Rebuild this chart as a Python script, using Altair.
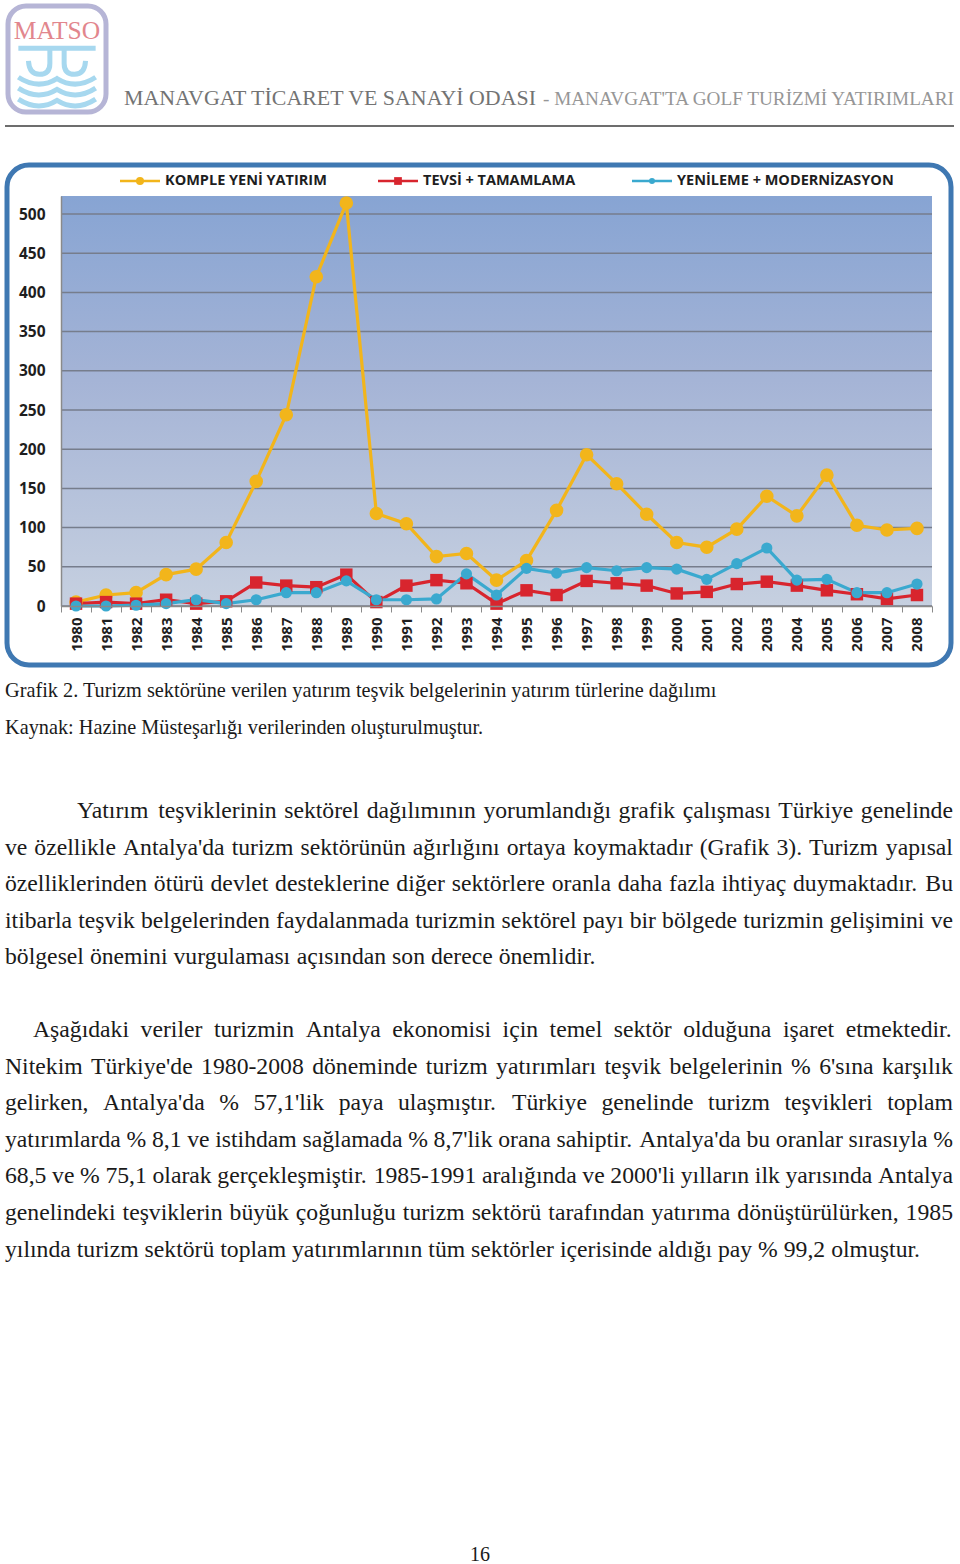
import altair as alt
import pandas as pd

# ---------------- data ----------------
years = [str(y) for y in range(1980, 2009)]
komple = [5, 14, 17, 40, 47, 81, 159, 244, 420, 514, 118, 105, 63, 67, 33, 58, 122, 193, 156, 117,
          81, 75, 98, 140, 115, 167, 103, 97, 99]
tevsi = [3, 5, 3, 8, 3, 6, 30, 26, 24, 40, 5, 26, 33, 29, 3, 20, 14, 32, 29, 26,
         16, 18, 28, 31, 26, 20, 15, 9, 14]
yenileme = [0, 0, 1, 3, 8, 3, 8, 17, 17, 32, 8, 8, 9, 41, 14, 48, 42, 49, 45, 49,
            47, 34, 54, 74, 33, 34, 17, 17, 28]
series_names = ["KOMPLE YENİ YATIRIM", "TEVSİ + TAMAMLAMA", "YENİLEME + MODERNİZASYON"]
series_colors = ["#f2b51b", "#d8252e", "#3aa9cf"]
series_shapes = ["circle", "square", "circle"]
series_sizes = [185, 125, 140]
y_ticks = list(range(0, 501, 50))

header_main = "MANAVGAT TİCARET VE SANAYİ ODASI"
header_sub = "- MANAVGAT'TA GOLF TURİZMİ YATIRIMLARI"
caption_lines = [
    "Grafik 2. Turizm sektörüne verilen yatırım teşvik belgelerinin yatırım türlerine dağılımı",
    "Kaynak: Hazine Müsteşarlığı verilerinden oluşturulmuştur.",
]
para1 = [
    "Yatırım teşviklerinin sektörel dağılımının yorumlandığı grafik çalışması Türkiye genelinde",
    "ve özellikle Antalya'da turizm sektörünün ağırlığını ortaya koymaktadır (Grafik 3). Turizm yapısal",
    "özelliklerinden ötürü devlet desteklerine diğer sektörlere oranla daha fazla ihtiyaç duymaktadır. Bu",
    "itibarla teşvik belgelerinden faydalanmada turizmin sektörel payı bir bölgede turizmin gelişimini ve",
    "bölgesel önemini vurgulaması açısından son derece önemlidir.",
]
para2 = [
    "Aşağıdaki veriler turizmin Antalya ekonomisi için temel sektör olduğuna işaret etmektedir.",
    "Nitekim Türkiye'de 1980-2008 döneminde turizm yatırımları teşvik belgelerinin % 6'sına karşılık",
    "gelirken, Antalya'da % 57,1'lik paya ulaşmıştır. Türkiye genelinde turizm teşvikleri toplam",
    "yatırımlarda % 8,1 ve istihdam sağlamada % 8,7'lik orana sahiptir. Antalya'da bu oranlar sırasıyla %",
    "68,5 ve % 75,1 olarak gerçekleşmiştir. 1985-1991 aralığında ve 2000'li yılların ilk yarısında Antalya",
    "genelindeki teşviklerin büyük çoğunluğu turizm sektörü tarafından yatırıma dönüştürülürken, 1985",
    "yılında turizm sektörü toplam yatırımlarının tüm sektörler içerisinde aldığı pay % 99,2 olmuştur.",
]
page_number = "16"

# ---------------- layout helpers ----------------
OX, OY = 61, 196          # plot origin on the page
PW, PH = 871, 410         # plot size
Y_MAX = 523

W = {' ': 250, 'a': 444, 'b': 500, 'c': 444, 'd': 500, 'e': 444, 'f': 333, 'g': 500, 'h': 500,
     'i': 278, 'j': 278, 'k': 500, 'l': 278, 'm': 778, 'n': 500, 'o': 500, 'p': 500, 'q': 500,
     'r': 333, 's': 389, 't': 278, 'u': 500, 'v': 500, 'w': 722, 'x': 500, 'y': 500, 'z': 444,
     'A': 722, 'B': 667, 'C': 667, 'D': 722, 'E': 611, 'F': 556, 'G': 722, 'H': 722, 'I': 333,
     'J': 389, 'K': 722, 'L': 611, 'M': 889, 'N': 722, 'O': 722, 'P': 556, 'Q': 722, 'R': 667,
     'S': 556, 'T': 611, 'U': 722, 'V': 722, 'W': 944, 'X': 722, 'Y': 722, 'Z': 611,
     '.': 250, ',': 250, "'": 180, '(': 333, ')': 333, '%': 833, '-': 333, ':': 278,
     'ı': 278, 'ş': 389, 'ç': 444, 'ğ': 500, 'ö': 500, 'ü': 500, 'İ': 333, 'Ş': 556,
     'Ç': 667, 'Ö': 722, 'Ü': 722, 'Ğ': 722}


def tw(s, fs):
    return sum(W.get(ch, 500) for ch in s) * fs / 1000.0


BODY_FS = 23.7
rows = []


def lay(text, x0, x1, base, justify):
    words = text.split(' ')
    ws = [tw(w, BODY_FS) for w in words]
    if justify and len(words) > 1:
        gap = (x1 - x0 - sum(ws)) / (len(words) - 1)
    else:
        gap = 0.25 * BODY_FS
    x = x0
    for w, wd in zip(words, ws):
        rows.append({"word": w, "px": x - OX, "py": base - OY})
        x += wd + gap


step = 36.6
for i, line in enumerate(para1):
    lay(line, 77 if i == 0 else 5, 953, 818 + i * step, i < len(para1) - 1)
for i, line in enumerate(para2):
    lay(line, 33 if i == 0 else 5, 953, 1037 + i * step, i < len(para2) - 1)
words_df = pd.DataFrame(rows)

one = pd.DataFrame({"k": [0]})

# ---------------- chart frame ----------------
box = alt.Chart(one).mark_rect(cornerRadius=22, fill="white", stroke="#3f78b2", strokeWidth=5).encode(
    x=alt.value(7 - OX), x2=alt.value(951 - OX), y=alt.value(165 - OY), y2=alt.value(665 - OY))

bg = alt.Chart(one).mark_rect(
    color=alt.LinearGradient(
        gradient="linear", x1=0, x2=0, y1=0, y2=1,
        stops=[alt.GradientStop(offset=0, color="#87a4d3"),
               alt.GradientStop(offset=0.45, color="#a5b4d6"),
               alt.GradientStop(offset=1, color="#c6d0e0")])
).encode(x=alt.value(0), x2=alt.value(PW), y=alt.value(0), y2=alt.value(PH))

grid = alt.Chart(pd.DataFrame({"v": y_ticks})).mark_rule(color="#767d8c", strokeWidth=1.5).encode(
    y=alt.Y("v:Q", scale=alt.Scale(domain=[0, Y_MAX], nice=False)), x=alt.value(0), x2=alt.value(PW))

long = pd.DataFrame({
    "year": years * 3,
    "value": komple + tevsi + yenileme,
    "series": [series_names[0]] * 29 + [series_names[1]] * 29 + [series_names[2]] * 29,
})

xenc = alt.X("year:O", scale=alt.Scale(type="band", domain=years, paddingInner=0, paddingOuter=0),
             bandPosition=0.5,
             axis=alt.Axis(title=None, labelAngle=-90, tickBand="extent", tickSize=6, tickColor="#8a8a8a",
                           domainColor="#8a8a8a", domainWidth=1.5, labelPadding=5, labelFont="Open Sans",
                           labelFontWeight="bold", labelFontSize=15, labelColor="#1e1e1e", grid=False,
                           zindex=1))
yenc = alt.Y("value:Q", scale=alt.Scale(domain=[0, Y_MAX], nice=False),
             axis=alt.Axis(title=None, values=y_ticks, grid=False, ticks=False, domainColor="#8a8a8a",
                           domainWidth=1.5, labelPadding=16, labelFont="Open Sans", labelFontWeight="bold",
                           labelFontSize=15.5, labelColor="#1e1e1e", zindex=1))
cenc = alt.Color("series:N", scale=alt.Scale(domain=series_names, range=series_colors), legend=None)

lines = alt.Chart(long).mark_line(strokeWidth=3.2).encode(x=xenc, y=yenc, color=cenc)
points = alt.Chart(long).mark_point(filled=True, opacity=1).encode(
    x=xenc, y=yenc, color=cenc,
    shape=alt.Shape("series:N", scale=alt.Scale(domain=series_names, range=series_shapes), legend=None),
    size=alt.Size("series:N", scale=alt.Scale(domain=series_names, range=series_sizes), legend=None))

# manual legend
legend_layers = []
legend_x = [120, 378, 632]
legend_marker = [64, 60, 36]
for name, col, shp, lx, ms in zip(series_names, series_colors, series_shapes, legend_x, legend_marker):
    legend_layers.append(alt.Chart(one).mark_rule(color=col, strokeWidth=2.5).encode(
        x=alt.value(lx - OX), x2=alt.value(lx + 40 - OX), y=alt.value(181 - OY)))
    legend_layers.append(alt.Chart(one).mark_point(shape=shp, filled=True, opacity=1, size=ms, color=col).encode(
        x=alt.value(lx + 20 - OX), y=alt.value(181 - OY)))
    legend_layers.append(alt.Chart(one).mark_text(align="left", baseline="middle", font="Open Sans",
                                                  fontWeight="bold", fontSize=14.5, color="#1e1e1e").encode(
        x=alt.value(lx + 45 - OX), y=alt.value(181 - OY), text=alt.value(name)))

# ---------------- page header ----------------
logo_frame = alt.Chart(one).mark_rect(cornerRadius=18, fill=None, stroke="#b6b5d6", strokeWidth=5).encode(
    x=alt.value(8 - OX), x2=alt.value(106 - OX), y=alt.value(6 - OY), y2=alt.value(112 - OY))
logo_text = alt.Chart(one).mark_text(align="center", baseline="alphabetic", font="Liberation Serif",
                                     fontSize=25.5, color="#e2868d").encode(
    x=alt.value(57 - OX), y=alt.value(39 - OY), text=alt.value("MATSO"))
EMBLEM = ("M -0.92 -0.66 L 0.92 -0.66 "
          "M -0.17 -0.66 L -0.17 -0.3 Q -0.17 -0.04 -0.42 -0.04 Q -0.66 -0.04 -0.68 -0.36 "
          "M 0.17 -0.66 L 0.17 -0.3 Q 0.17 -0.04 0.42 -0.04 Q 0.66 -0.04 0.68 -0.36 "
          "M -0.92 0.03 Q -0.45 0.34 0 0.06 Q 0.45 0.34 0.92 0.03 "
          "M -0.92 0.29 Q -0.45 0.60 0 0.32 Q 0.45 0.60 0.92 0.29 "
          "M -0.92 0.55 Q -0.45 0.86 0 0.58 Q 0.45 0.86 0.92 0.55")
emblem = alt.Chart(one).mark_point(shape=EMBLEM, size=84 * 84, filled=False, opacity=1, color="#a7d8ef",
                                   strokeWidth=5).encode(x=alt.value(57 - OX), y=alt.value(76 - OY))
head1 = alt.Chart(one).mark_text(align="left", baseline="alphabetic", font="Liberation Serif",
                                 fontSize=21.9, color="#737373").encode(
    x=alt.value(124 - OX), y=alt.value(105 - OY), text=alt.value(header_main))
head2 = alt.Chart(one).mark_text(align="left", baseline="alphabetic", font="Liberation Serif",
                                 fontSize=19.2, color="#969696").encode(
    x=alt.value(543 - OX), y=alt.value(105 - OY), text=alt.value(header_sub))
head_rule = alt.Chart(one).mark_rule(color="#3c3c3c", strokeWidth=1.5).encode(
    x=alt.value(5 - OX), x2=alt.value(954 - OX), y=alt.value(126 - OY))

# ---------------- captions, body, page number ----------------
cap_layers = []
for i, c in enumerate(caption_lines):
    cap_layers.append(alt.Chart(one).mark_text(align="left", baseline="alphabetic", font="Liberation Serif",
                                               fontSize=20.3, color="#1a1a1a").encode(
        x=alt.value(5 - OX), y=alt.value(697 + i * 37 - OY), text=alt.value(c)))

body = alt.Chart(words_df).mark_text(align="left", baseline="alphabetic", font="Liberation Serif",
                                     fontSize=BODY_FS, color="#1a1a1a").encode(
    x=alt.X("px:Q", scale=None), y=alt.Y("py:Q", scale=None), text="word:N")

pnum = alt.Chart(one).mark_text(align="center", baseline="alphabetic", font="Liberation Serif",
                                fontSize=20, color="#1a1a1a").encode(
    x=alt.value(480 - OX), y=alt.value(1561 - OY), text=alt.value(page_number))

chart = alt.layer(
    box, bg, grid, lines, points, *legend_layers,
    logo_frame, logo_text, emblem, head1, head2, head_rule,
    *cap_layers, body, pnum
).properties(
    width=PW, height=PH,
    padding={"left": OX, "top": OY, "right": 960 - OX - PW, "bottom": 1564 - OY - PH},
    autosize=alt.AutoSizeParams(type="none"),
    background="white",
).configure_view(stroke=None)

chart.save("out.html", embed_options={"renderer": "svg", "actions": False})
